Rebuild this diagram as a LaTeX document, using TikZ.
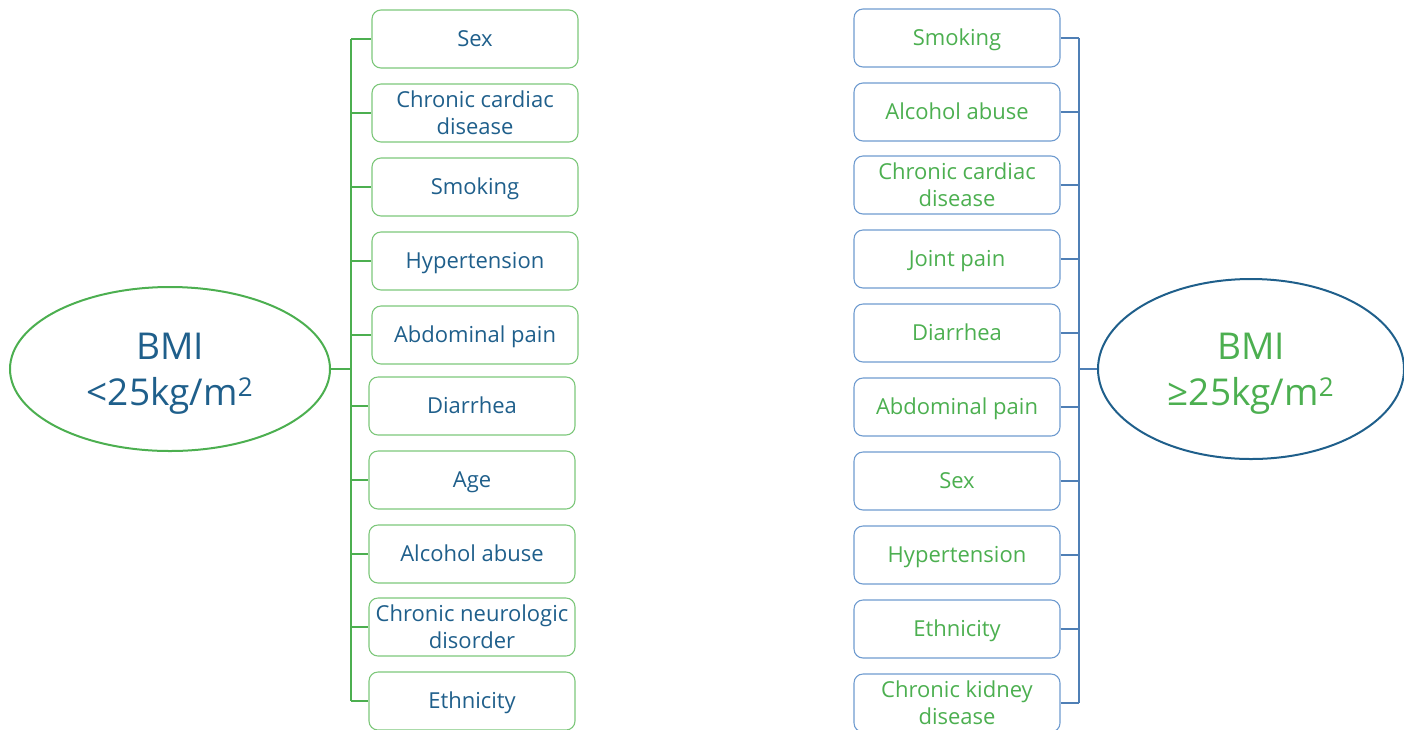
\documentclass[tikz,border=0pt]{standalone}
\usepackage{fontspec}
\setmainfont{Open Sans}
\usetikzlibrary{shapes.geometric}
\definecolor{dblue}{HTML}{1F5F8B}
\definecolor{dgreen}{HTML}{4CAF50}
\definecolor{lgreen}{HTML}{7DC77B}
\definecolor{lblue}{HTML}{6F9BCF}
\definecolor{tblue}{HTML}{4F7FB5}
\tikzset{
  x=1pt, y=-1pt,
  boxbase/.style={line width=1.1pt, rounded corners=9pt, minimum width=206pt, minimum height=58pt, align=center, font=\fontsize{22}{27}\selectfont, inner sep=0pt, text height=15.7pt, text depth=0pt},
  lbox/.style={boxbase, draw=lgreen, text=dblue},
  rbox/.style={boxbase, draw=lblue, text=dgreen},
  two/.style={text height=42.7pt},
  bigell/.style={ellipse, line width=2pt, align=center, font=\fontsize{37}{46}\selectfont, inner sep=0pt, text height=72.4pt, text depth=0pt},
  lline/.style={draw=dgreen, line width=1.3pt},
  rline/.style={draw=tblue, line width=1.3pt},
}
\begin{document}
\begin{tikzpicture}
\useasboundingbox (0,0) rectangle (1404,729);
% left ellipse
\node[bigell, draw=dgreen, minimum width=320pt, minimum height=164pt, text=dblue] (L) at (170,369) {BMI\\<25kg/m\textsuperscript{2}};
\coordinate (LT) at (351,369);
\coordinate (LT1) at (351,39);
\coordinate (LT2) at (351,701);
\node[lbox] (l1) at (475,39) {Sex};
\node[lbox, two] (l2) at (475,113) {Chronic cardiac\\disease};
\node[lbox] (l3) at (475,187) {Smoking};
\node[lbox] (l4) at (475,261) {Hypertension};
\node[lbox] (l5) at (475,335) {Abdominal pain};
\node[lbox] (l6) at (472,406) {Diarrhea};
\node[lbox] (l7) at (472,480) {Age};
\node[lbox] (l8) at (472,554) {Alcohol abuse};
\node[lbox, two] (l9) at (472,627) {Chronic neurologic\\disorder};
\node[lbox] (l10) at (472,701) {Ethnicity};
\draw[lline] (L.east) -- (LT);
\draw[lline] (LT1) -- (LT2);
\foreach \i in {1,...,10} {\draw[lline] (l\i.west -| LT) -- (l\i.west);}
% right ellipse
\node[bigell, draw=dblue, minimum width=306pt, minimum height=180pt, text=dgreen] (R) at (1251,369) {BMI\\≥25kg/m\textsuperscript{2}};
\coordinate (RT) at (1079,369);
\coordinate (RT1) at (1079,38);
\coordinate (RT2) at (1079,703);
\node[rbox] (r1) at (957,38) {Smoking};
\node[rbox] (r2) at (957,112) {Alcohol abuse};
\node[rbox, two] (r3) at (957,185) {Chronic cardiac\\disease};
\node[rbox] (r4) at (957,259) {Joint pain};
\node[rbox] (r5) at (957,333) {Diarrhea};
\node[rbox] (r6) at (957,407) {Abdominal pain};
\node[rbox] (r7) at (957,481) {Sex};
\node[rbox] (r8) at (957,555) {Hypertension};
\node[rbox] (r9) at (957,629) {Ethnicity};
\node[rbox, two] (r10) at (957,703) {Chronic kidney\\disease};
\draw[rline] (R.west) -- (RT);
\draw[rline] (RT1) -- (RT2);
\foreach \i in {1,...,10} {\draw[rline] (r\i.east) -- (r\i.east -| RT);}
\end{tikzpicture}
\end{document}
